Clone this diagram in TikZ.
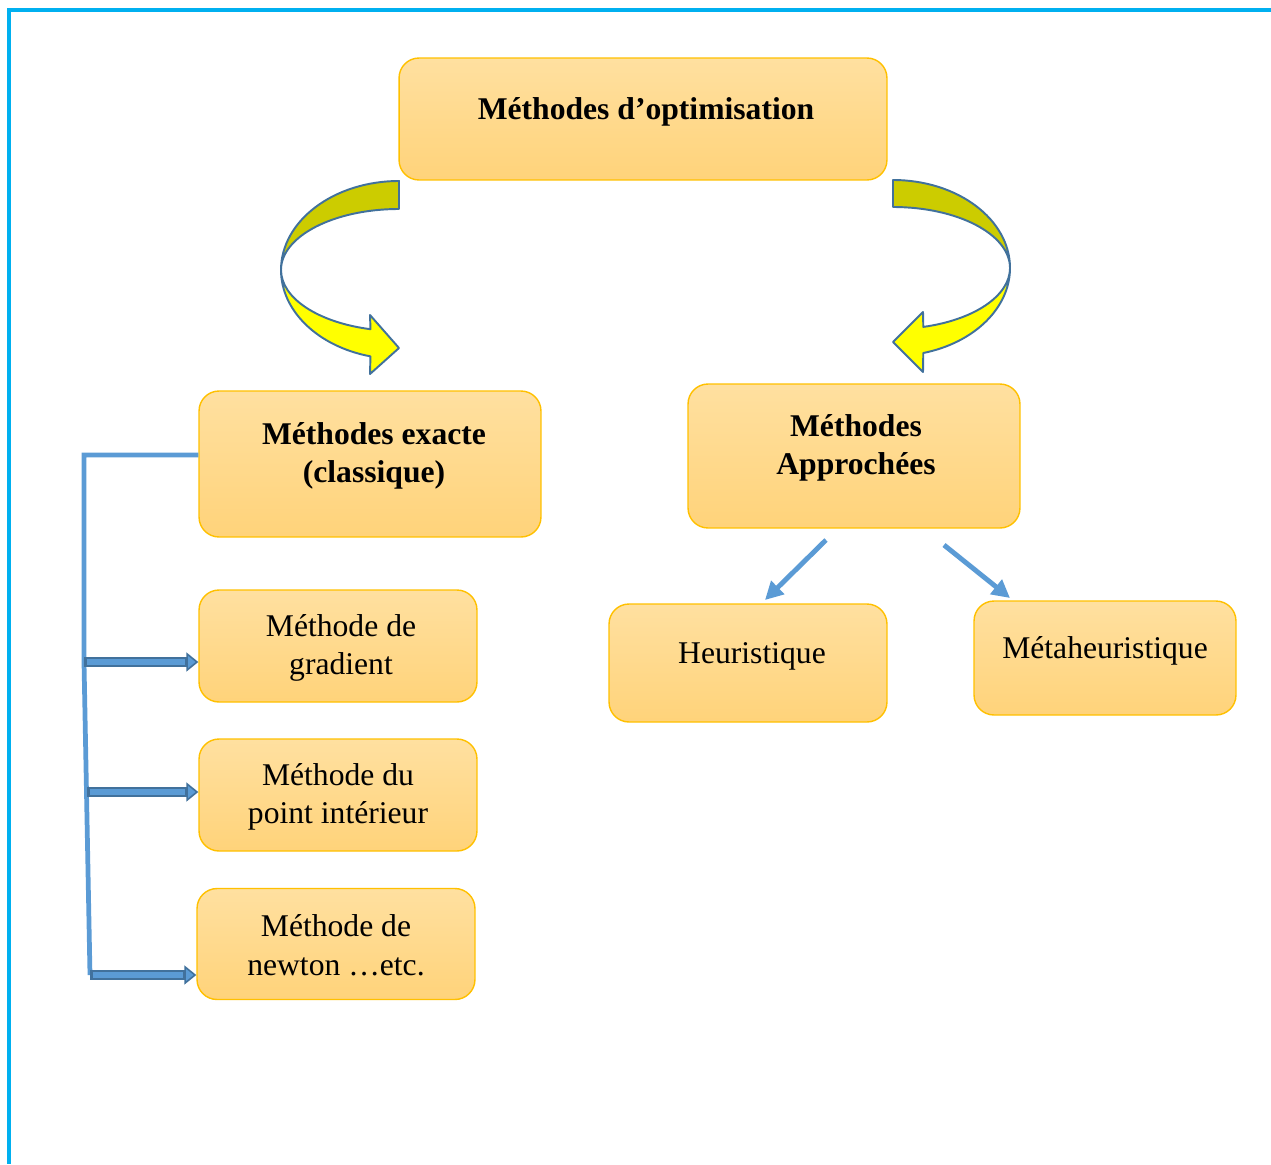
\documentclass[tikz,border=0pt]{standalone}
\usepackage{fontspec}
\setmainfont{Liberation Serif}
\usetikzlibrary{arrows.meta,calc}
\definecolor{boxTop}{RGB}{255,224,160}
\definecolor{boxBottom}{RGB}{255,211,122}
\definecolor{boxLine}{RGB}{255,192,0}
\definecolor{lineBlue}{RGB}{91,155,213}
\definecolor{darkBlue}{RGB}{65,113,156}
\definecolor{frameBlue}{RGB}{0,176,240}
\definecolor{bandOlive}{RGB}{204,204,0}
\definecolor{bandYellow}{RGB}{255,255,0}
\tikzset{
myBox/.style={
	rectangle, rounded corners=0.4cm, draw=boxLine, line width=0.8pt,
	top color=boxTop, bottom color=boxBottom, inner sep=0pt
}
, myText/.style={
	font=\fontsize{18}{22}\selectfont, align=center, inner sep=0pt
}
, myTitle/.style={myText, font=\fontsize{18}{22}\selectfont\bfseries}
% curved arrows
, myBand/.style={draw=darkBlue, line width=1.1pt, line join=round}
% links
, myTrunk/.style={color=lineBlue, line width=2.7pt}
, myBlock/.style={
	color=darkBlue, line width=5.2pt,
	-{Triangle[length=0.24cm, width=0.38cm, fill=lineBlue, line width=0.9pt]},
	postaction={draw=lineBlue, line width=3.2pt, -, shorten >=0.27cm, shorten <=0.05cm}
}
, myPick/.style={
	color=lineBlue, line width=2.8pt,
	-{Triangle[length=0.36cm, width=0.36cm]}
}
}

\begin{document}
\begin{tikzpicture}[x=0.02cm, y=-0.02cm]
	\useasboundingbox (0,0) rectangle (1271,1164);
	% frame
	\draw[frameBlue, line width=2.3pt] (1271,10) -- (9,10) -- (9,1164);

	% nodes
	\node[myBox, minimum width=9.76cm, minimum height=2.44cm] (Optim) at (643,119) {};
	\node[myTitle] (OptimTxt) at (646,112) {Méthodes d’optimisation};

	\node[myBox, minimum width=6.84cm, minimum height=2.92cm] (Exacte) at (370,464) {};
	\node[myTitle] (ExacteTxt) at (374,456) {Méthodes exacte\\(classique)};

	\node[myBox, minimum width=6.64cm, minimum height=2.88cm] (Appr) at (854,456) {};
	\node[myTitle] (ApprTxt) at (856,448) {Méthodes\\Approchées};

	\node[myBox, minimum width=5.56cm, minimum height=2.24cm] (Grad) at (338,646) {};
	\node[myText] (GradTxt) at (341,648) {Méthode de\\gradient};

	\node[myBox, minimum width=5.56cm, minimum height=2.24cm] (Point) at (338,795) {};
	\node[myText] (PointTxt) at (338,797) {Méthode du\\point intérieur};

	\node[myBox, minimum width=5.56cm, minimum height=2.22cm] (Newton) at (336,944) {};
	\node[myText] (NewtonTxt) at (336,945) {Méthode de\\newton …etc.};

	\node[myBox, minimum width=5.56cm, minimum height=2.36cm] (Heur) at (748,663) {};
	\node[myText] (HeurTxt) at (752,656) {Heuristique};

	\node[myBox, minimum width=5.24cm, minimum height=2.28cm] (Meta) at (1105,658) {};
	\node[myText] (MetaTxt) at (1105,651) {Métaheuristique};

	% curved arrows
	\filldraw[myBand, fill=bandOlive] (399,181)
		arc[start angle=270, end angle=180, x radius=118, y radius=89]
		arc[start angle=180, end angle=270, x radius=118, y radius=61] -- cycle;
	\filldraw[myBand, fill=bandYellow] (281,270)
		arc[start angle=180, end angle=104, x radius=118, y radius=89]
		-- (370,374) -- (399,348) -- (370,315) -- (370.5,329.2)
		arc[start angle=104, end angle=180, x radius=118, y radius=61] -- cycle;

	\filldraw[myBand, fill=bandOlive] (893,180)
		arc[start angle=270, end angle=360, x radius=117, y radius=88]
		arc[start angle=0, end angle=-90, x radius=117, y radius=61] -- cycle;
	\filldraw[myBand, fill=bandYellow] (1010,268)
		arc[start angle=0, end angle=75, x radius=117, y radius=88]
		-- (923,372) -- (893,342) -- (923,312) -- (923.3,326.9)
		arc[start angle=75, end angle=0, x radius=117, y radius=61] -- cycle;

	% links
	\coordinate (J1) at (84,662);
	\coordinate (J2) at (87,792);
	\coordinate (J3) at (90,975);
	\draw[myTrunk] ($(Exacte.west)+(0,-9)$) -| (J1) -- (J3);
	\draw[myBlock] (J1) -- (Grad.west |- J1);
	\draw[myBlock] (J2) -- (Point.west |- J2);
	\draw[myBlock] (J3) -- (Newton.west |- J3);

	\coordinate (HeurFrom) at (826,540);
	\coordinate (HeurTo) at (765,600);
	\coordinate (MetaFrom) at (944,545);
	\coordinate (MetaTo) at (1010,598);
	\draw[myPick] (HeurFrom) -- (HeurTo);
	\draw[myPick] (MetaFrom) -- (MetaTo);
\end{tikzpicture}
\end{document}
